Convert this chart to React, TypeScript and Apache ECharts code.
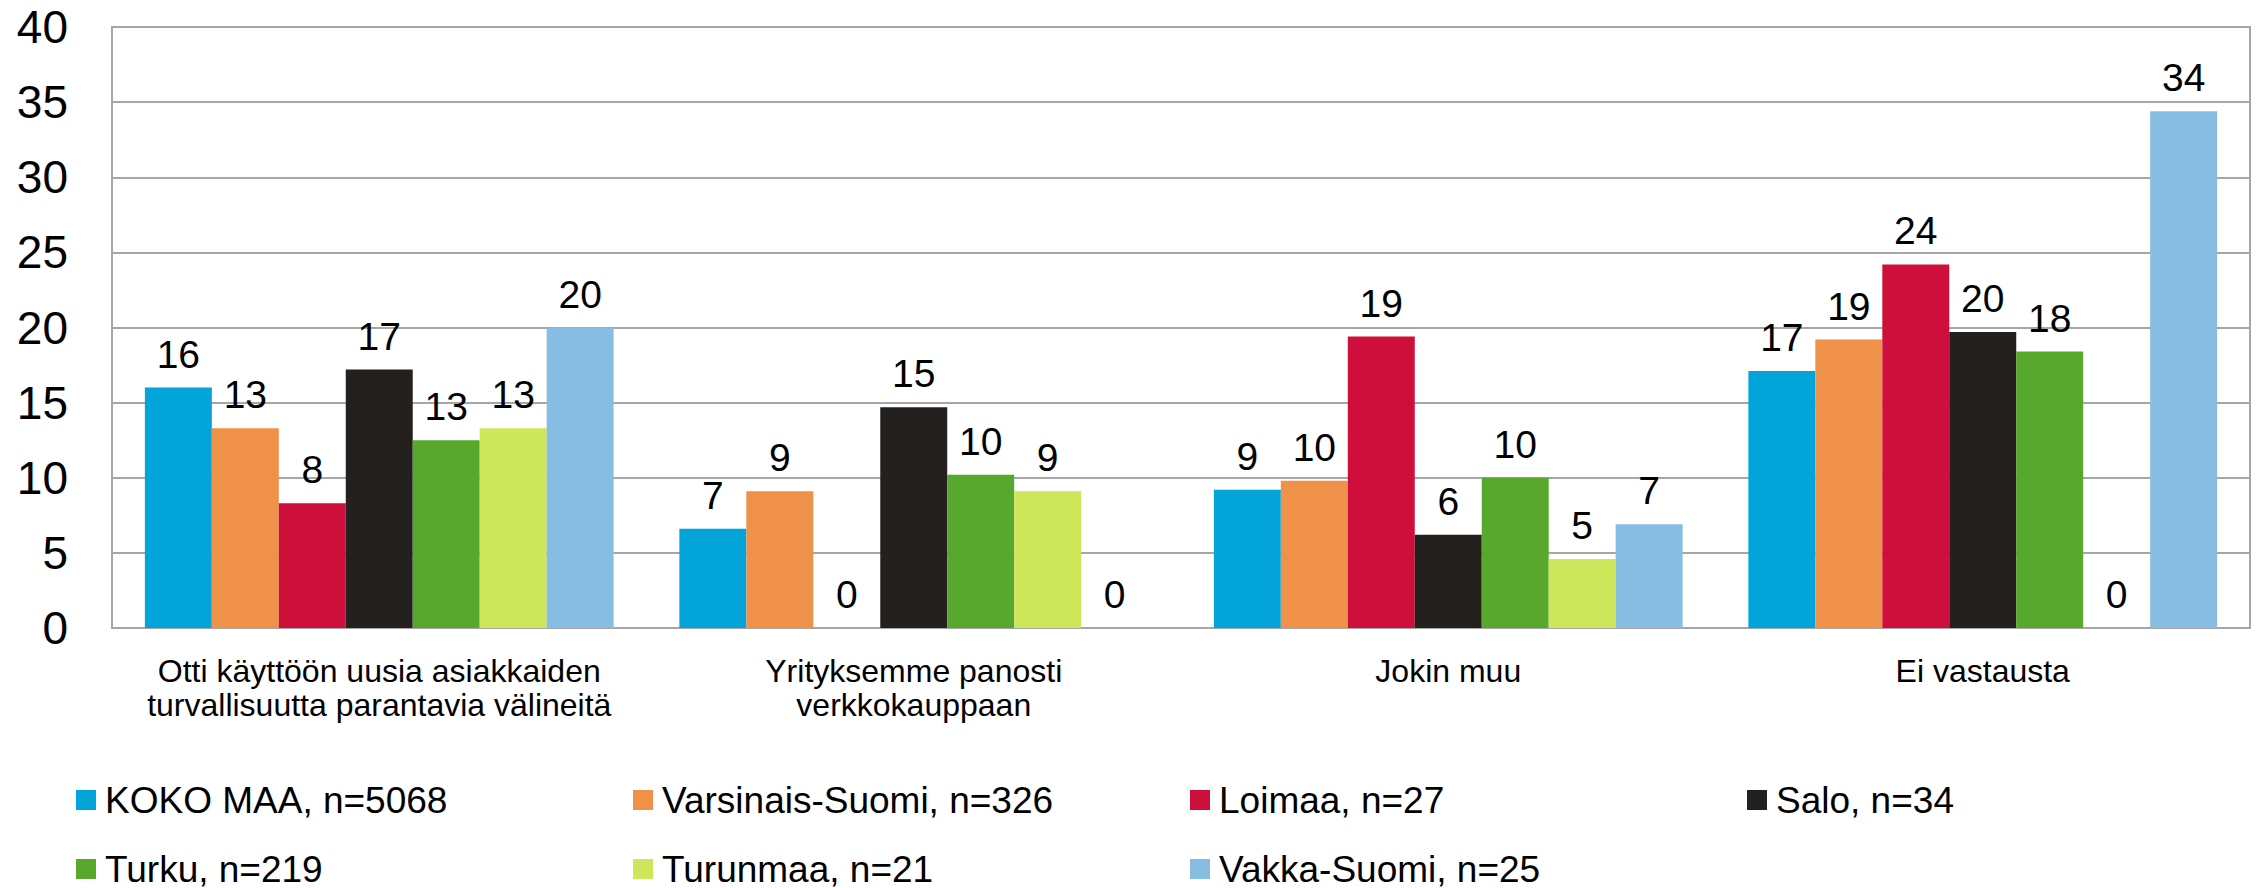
import React, { useEffect, useRef } from "react";
import * as echarts from "echarts";

const categories = [
  "Otti käyttöön uusia asiakkaiden\nturvallisuutta parantavia välineitä",
  "Yrityksemme panosti\nverkkokauppaan",
  "Jokin muu",
  "Ei vastausta",
];

const seriesNames = [
  "KOKO MAA, n=5068",
  "Varsinais-Suomi, n=326",
  "Loimaa, n=27",
  "Salo, n=34",
  "Turku, n=219",
  "Turunmaa, n=21",
  "Vakka-Suomi, n=25",
];

const seriesColors = ["#02A4D9", "#F0914A", "#CE0F3C", "#23201E", "#57A82C", "#CDE65A", "#87BDE2"];

const kokoMaa = [16.0, 6.6, 9.2, 17.1];
const varsinaisSuomi = [13.3, 9.1, 9.8, 19.2];
const loimaa = [8.3, 0, 19.4, 24.2];
const salo = [17.2, 14.7, 6.2, 19.7];
const turku = [12.5, 10.2, 10.0, 18.4];
const turunmaa = [13.3, 9.1, 4.6, 0];
const vakkaSuomi = [20.0, 0, 6.9, 34.4];

const seriesValues = [kokoMaa, varsinaisSuomi, loimaa, salo, turku, turunmaa, vakkaSuomi];

const yTicks = { min: 0, max: 40, interval: 5 };

const legendPositions = [
  [76, 781], [633, 781], [1190, 781], [1747, 781],
  [76, 850], [633, 850], [1190, 850],
];

const FONT = "'Liberation Sans', Arial, sans-serif";

export default function App() {
  const ref = useRef<HTMLDivElement>(null);
  useEffect(() => {
    document.body.style.margin = "0";
    if (!ref.current) return;
    const chart = echarts.init(ref.current, null, { renderer: "svg" });
    const option: any = {
      animation: false,
      backgroundColor: "#ffffff",
      textStyle: { fontFamily: FONT },
      grid: {
        left: 112,
        right: 10,
        top: 27,
        bottom: 260,
        show: true,
        borderColor: "#A6A6A6",
        borderWidth: 2,
      },
      legend: seriesNames.map((name, i) => ({
        data: [name],
        left: legendPositions[i][0],
        top: legendPositions[i][1],
        padding: 0,
        icon: "rect",
        itemWidth: 20,
        itemHeight: 20,
        selectedMode: false,
        textStyle: {
          fontFamily: FONT,
          fontSize: 37,
          lineHeight: 38,
          color: "#000",
          padding: [0, 0, 0, 4],
        },
      })),
      xAxis: {
        type: "category",
        data: categories,
        axisLine: { lineStyle: { color: "#A6A6A6", width: 2 } },
        axisTick: { show: false },
        axisLabel: {
          color: "#000",
          fontFamily: FONT,
          fontSize: 32,
          lineHeight: 34,
          margin: 26,
          interval: 0,
        },
      },
      yAxis: {
        type: "value",
        min: yTicks.min,
        max: yTicks.max,
        interval: yTicks.interval,
        axisLine: { show: true, lineStyle: { color: "#A6A6A6", width: 2 } },
        axisTick: { show: false },
        splitLine: { lineStyle: { color: "#A6A6A6", width: 2 } },
        axisLabel: {
          color: "#000",
          fontFamily: FONT,
          fontSize: 46,
          margin: 44,
        },
      },
      series: seriesNames.map((name, i) => ({
        name,
        type: "bar",
        data: seriesValues[i],
        itemStyle: { color: seriesColors[i] },
        barGap: "0%",
        barCategoryGap: "12.3%",
        label: {
          show: true,
          position: "top",
          distance: 14,
          color: "#000",
          fontFamily: FONT,
          fontSize: 39,
          formatter: (p: any) => String(Math.round(p.value)),
        },
      })),
    };
    chart.setOption(option);
    return () => chart.dispose();
  }, []);
  return <div ref={ref} style={{ width: 2260, height: 888 }} />;
}
